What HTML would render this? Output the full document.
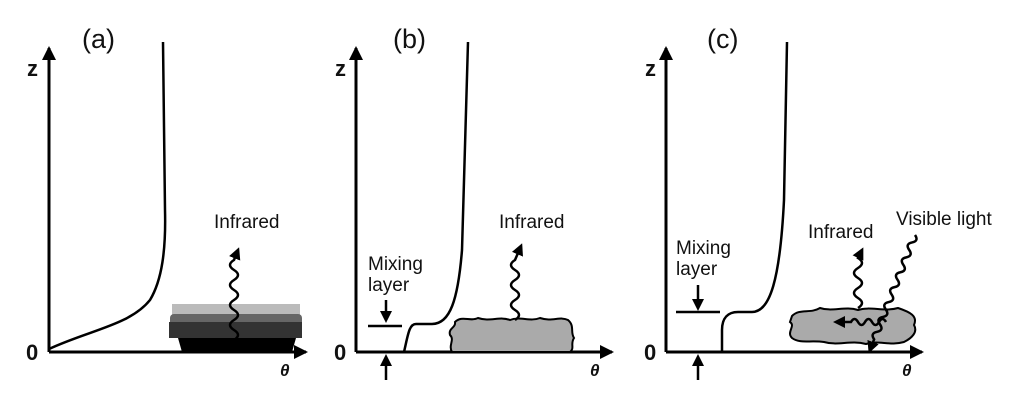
<!DOCTYPE html>
<html><head><meta charset="utf-8"><style>
body{margin:0;background:#fff}
svg{display:block}
text{font-family:"Liberation Sans",sans-serif;fill:#111}
</style></head><body>
<svg width="1024" height="407" viewBox="0 0 1024 407" xmlns="http://www.w3.org/2000/svg">
<defs>
<marker id="ah" markerWidth="12" markerHeight="12" refX="9" refY="6" orient="auto" markerUnits="userSpaceOnUse"><path d="M0,0 L12,6 L0,12 Z" fill="#000"/></marker>
<marker id="as" markerWidth="14" markerHeight="14" refX="12" refY="7" orient="auto" markerUnits="userSpaceOnUse"><path d="M0,0 L14,7 L0,14 Z" fill="#000"/></marker>
</defs>
<g stroke="#000" stroke-width="3" fill="none">
<path d="M49,352 V48" marker-end="url(#as)"/>
<path d="M49,352 H306" marker-end="url(#as)"/>
<path d="M356,352 V48" marker-end="url(#as)"/>
<path d="M356,352 H612" marker-end="url(#as)"/>
<path d="M666,352 V48" marker-end="url(#as)"/>
<path d="M666,352 H922" marker-end="url(#as)"/>
</g>
<!-- panel a block -->
<rect x="172" y="304" width="128" height="14" fill="#bbb"/>
<rect x="170" y="314" width="132" height="12" rx="4" fill="#666"/>
<rect x="169" y="322" width="133" height="16" fill="#333"/>
<path d="M178,338 H296 L292,352 H182 Z" fill="#000"/>
<g stroke="#000" stroke-width="2.5" fill="none">
<path d="M49,349 C90,330 130,325 150,300 C162,280 166,250 165,210 L163,42"/>
<path d="M404,352 C408,335 409,324 416,324 H432 C450,324 458,300 462,250 L468,42"/>
<path d="M722,352 V330 C722,318 728,312 738,312 H752 C770,312 780,280 784,200 L787,42"/>
<path d="M368,326 H402"/><path d="M676,312 H720"/>
</g>
<!-- blobs -->
<path d="M452,352 C448,345 455,340 450,335 C448,328 456,328 455,322 C462,315 470,322 478,318 C490,322 500,316 510,320 C520,316 530,322 540,318 C552,322 560,316 568,320 C575,326 570,332 574,338 C570,344 575,348 570,352 Z" fill="#aaa" stroke="#000" stroke-width="2"/>
<path d="M792,316 C800,308 810,314 820,308 C832,312 845,306 858,310 C870,306 885,312 898,308 C910,312 918,316 914,325 C918,332 912,338 904,342 C890,346 878,340 866,344 C850,340 838,346 824,342 C810,340 800,344 792,338 C786,332 796,326 790,322 Z" fill="#aaa" stroke="#000" stroke-width="2"/>
<!-- wavy arrows -->
<g stroke="#000" stroke-width="2.5" fill="none">
<path d="M234,340 q8,-5 0,-10 q-8,-5 0,-10 q8,-5 0,-10 q-8,-5 0,-10 q8,-5 0,-10 q-8,-5 0,-10 q8,-5 0,-10 q-8,-5 0,-10 L238,250" marker-end="url(#ah)"/>
<path d="M515,320 q8,-5 0,-10 q-8,-5 0,-10 q8,-5 0,-10 q-8,-5 0,-10 q8,-5 0,-10 q-8,-5 0,-10 L521,246" marker-end="url(#ah)"/>
<path d="M858,308 q8,-5 0,-10 q-8,-5 0,-10 q8,-5 0,-10 q-8,-5 0,-10 q8,-5 0,-10 L862,250" marker-end="url(#ah)"/>
<path transform="translate(915,235) rotate(111.4)" d="M0,0 q4,-6 8,0 q4,6 8,0 q4,-6 8,0 q4,6 8,0 q4,-6 8,0 q4,6 8,0 q4,-6 8,0 q4,6 8,0 q4,-6 8,0 q4,6 8,0 q4,-6 8,0 q4,6 8,0 q4,-6 8,0 q4,6 8,0 L124,0" marker-end="url(#ah)"/>
<path d="M886,322 q-3.5,-6 -7,0 q-3.5,6 -7,0 q-3.5,-6 -7,0 q-3.5,6 -7,0 q-3.5,-6 -7,0 L836,322" marker-end="url(#ah)"/>
<path d="M386,300 V320" marker-end="url(#ah)"/>
<path d="M386,380 V357" marker-end="url(#ah)"/>
<path d="M698,285 V308" marker-end="url(#ah)"/>
<path d="M698,380 V357" marker-end="url(#ah)"/>
</g>
<!-- labels -->
<text x="82" y="48" font-size="27">(a)</text>
<text x="393" y="48" font-size="27">(b)</text>
<text x="707" y="48" font-size="27">(c)</text>
<g font-weight="bold" font-size="22">
<text x="27" y="76">z</text><text x="335" y="76">z</text><text x="645" y="76">z</text>
<text x="26" y="360">0</text><text x="334" y="360">0</text><text x="644" y="360">0</text>
</g>
<g font-weight="bold" font-style="italic" font-size="17">
<text x="280" y="376">θ</text><text x="590" y="376">θ</text><text x="902" y="376">θ</text>
</g>
<g font-size="19">
<text x="214" y="228">Infrared</text>
<text x="499" y="228">Infrared</text>
<text x="808" y="238">Infrared</text>
<text x="896" y="225">Visible light</text>
<text x="368" y="270">Mixing</text><text x="368" y="291">layer</text>
<text x="676" y="254">Mixing</text><text x="676" y="275">layer</text>
</g>
</svg>
</body></html>
